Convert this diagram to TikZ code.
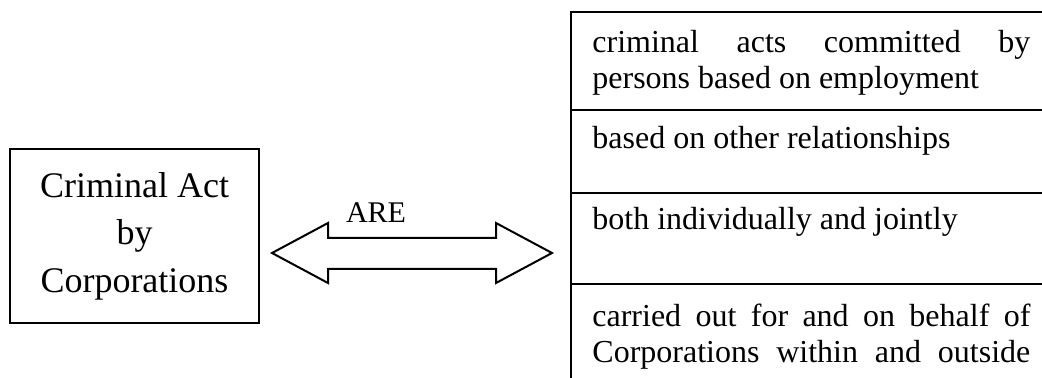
\documentclass[tikz,border=0pt]{standalone}
\usepackage{fontspec}
\setmainfont{Liberation Serif}
\usepackage{tikz}
\usetikzlibrary{positioning}

\tikzset{
  main box/.style={draw,line width=1pt,minimum width=124.5pt,minimum height=87pt,
    align=center,inner sep=0pt,font=\fontsize{18}{23.75}\selectfont},
  cell text/.style={anchor=base west,inner sep=0pt,font=\fontsize{16}{18}\selectfont},
  rule line/.style={line width=1.2pt},
}

\begin{document}
\begin{tikzpicture}[x=0.5pt,y=-0.5pt]
  \useasboundingbox (0,0) rectangle (1042,378);
  % left box
  \node[main box] (corp) at (134.5,236) {Criminal Act\\by\\Corporations};
  % double arrow
  \draw[line width=1pt,line join=miter] (272,253) -- (328,223) -- (328,238) -- (496,238)
    -- (496,223) -- (552,253) -- (496,283) -- (496,269) -- (328,269) -- (328,283) -- cycle;
  \node[anchor=base,inner sep=0pt,font=\fontsize{15}{18}\selectfont] (are) at (376,223) {ARE};
  % table on the right
  \draw[rule line] (1042,12) -- (571,12) -- (571,378);
  \draw[rule line] (571,110) -- (1042,110);
  \draw[rule line] (571,193) -- (1042,193);
  \draw[rule line] (571,284) -- (1042,284);
  \node[cell text] (emp1) at (592,53) {\makebox[219pt][s]{criminal acts committed by}};
  \node[cell text] (emp2) at (592,89) {persons based on employment};
  \node[cell text] (rel) at (592,149) {based on other relationships};
  \node[cell text] (joint) at (592,230) {both individually and jointly};
  \node[cell text] (behalf1) at (592,327) {\makebox[219pt][s]{carried out for and on behalf of}};
  \node[cell text] (behalf2) at (592,363) {\makebox[219pt][s]{Corporations within and outside}};
\end{tikzpicture}
\end{document}
